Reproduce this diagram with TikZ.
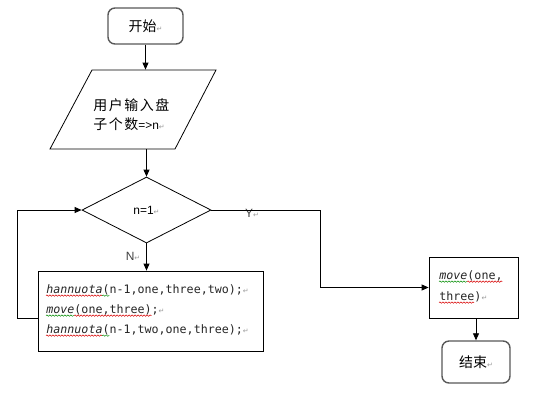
\documentclass[tikz,border=0pt]{standalone}
\usepackage{fontspec}
\setmainfont{Liberation Sans}
\newfontfamily\cjk{Noto Sans CJK SC}
\newfontfamily\cjksp{Noto Sans CJK SC}[LetterSpace=11]
\newfontfamily\codefont{DejaVu Sans Mono}
\newfontfamily\dejavu{DejaVu Sans}
\usetikzlibrary{shapes.geometric,arrows.meta,decorations.pathmorphing}
\newcommand\retmark{{\dejavu\fontsize{7}{7}\selectfont\textcolor{black!40}{↵}}}
\colorlet{spellred}{red!85!black}
\colorlet{spellgreen}{green!55!black}
\newcommand\squig[4]{\draw[squig, #1] ([xshift=#2*7.04bp, yshift=-2.6bp]#4.base west) -- ([xshift=#3*7.04bp, yshift=-2.6bp]#4.base west);}
\begin{document}
\begin{tikzpicture}[x=1bp,y=-1bp, line width=0.8bp,
  arr/.style={-{Triangle[length=7bp,width=6bp]}},
  term/.style={draw=black!65, line width=1.4bp, rounded corners=7bp, inner sep=0},
  box/.style={draw, inner sep=0},
  lbl/.style={inner sep=0, text=black!75, font=\fontsize{12}{14}\selectfont},
  codetext/.style={inner sep=0, anchor=base west, text=black!85, font=\codefont\fontsize{11.7}{14}\selectfont},
  cjktext/.style={inner sep=0, anchor=base west, font=\cjksp\fontsize{14}{16}\selectfont},
  squig/.style={decorate, decoration={snake, segment length=3bp, amplitude=0.7bp}, line width=0.5bp}
]
\useasboundingbox[fill=white] (0,0) rectangle (537,402);

% start
\node[term, minimum width=75bp, minimum height=36bp] (start) at (145.5,26)
  {\cjk\fontsize{14}{14}\selectfont 开始\retmark};

% input parallelogram
\node[inner sep=0, minimum width=166bp, minimum height=79bp] (inp) at (133,109.5) {};
\draw (92,70) -- (216,70) -- (175,149) -- (50,149) -- cycle;
\node[cjktext] (inp1) at (93,110) {用户输入盘};
\node[cjktext] (inp2) at (93,129) {子个数{\fontsize{12}{12}\selectfont\rmfamily =>n}\retmark};

% decision
\node[diamond, draw, minimum width=129bp, minimum height=66bp, inner sep=0, aspect=1.95,
      font=\fontsize{12}{14}\selectfont] (dec) at (146.5,210) {n=1\retmark};

% code box
\node[box, minimum width=225bp, minimum height=80bp] (code) at (150.5,311) {};
\node[codetext] (c1) at (46,293) {\textit{hannuota}(n-1,one,three,two);\retmark};
\node[codetext] (c2) at (46,313) {\textit{move}(one,three);\retmark};
\node[codetext] (c3) at (46,333) {\textit{hannuota}(n-1,two,one,three);\retmark};
\squig{spellred}{0}{8}{c1}
\squig{spellgreen}{8}{9}{c1}
\squig{spellgreen}{0}{4}{c2}
\squig{spellred}{4}{15}{c2}
\squig{spellred}{0}{8}{c3}
\squig{spellgreen}{8}{9}{c3}

% move box
\node[box, minimum width=89bp, minimum height=61bp] (move) at (473.5,287.5) {};
\node[codetext] (m1) at (439,279) {\textit{move}(one,};
\node[codetext] (m2) at (439,300) {three)\retmark};
\squig{spellgreen}{0}{4}{m1}
\squig{spellred}{4}{9}{m1}
\squig{spellred}{0}{5}{m2}

% end
\node[term, minimum width=68bp, minimum height=42bp] (endb) at (476,362)
  {\cjk\fontsize{14}{14}\selectfont 结束\retmark};

% labels
\node[lbl] (ylbl) at (252,213) {Y\retmark};
\node[lbl] (nlbl) at (133,256) {N\retmark};

% connectors
\coordinate (yturn) at (320,210);
\coordinate (loopx) at (17,210);
\draw[arr] (start) -- (start.south |- inp.north);
\draw[arr] (inp.south -| dec.north) -- (dec.north);
\draw[arr] (dec.south) -- (dec.south |- code.north);
\draw[arr] (dec.east) -- (yturn) |- (move.west);
\draw[arr] (endb.north |- move.south) -- (endb.north);
\draw[arr] ([yshift=-7bp]code.west) -| (loopx) -- (dec.west);
\end{tikzpicture}
\end{document}
